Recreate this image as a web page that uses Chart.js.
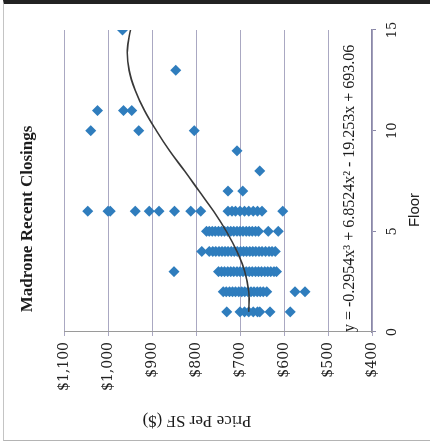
<!DOCTYPE html>
<html lang="en">
<head>
  <meta charset="UTF-8">
  <title>Madrone Recent Closings</title>
  <script src="https://cdn.jsdelivr.net/npm/chart.js"></script>
  <style>
    body { margin: 0; background: #fff; }
    #page { position: relative; width: 430px; height: 442px; overflow: hidden; background: #fff; }
    #turn { position: absolute; left: 0; top: 0; width: 442px; height: 430px;
            transform-origin: 0 0; transform: translateY(442px) rotate(-90deg); }
    #frame { position: absolute; left: 3px; top: 0; width: 427px; height: 441px; box-sizing: border-box;
             border-top: 4px solid #222; border-left: 1px solid #c4c4c4; border-bottom: 1px solid #b4b4b4; }
  </style>
</head>
<body>
  <div id="page">
    <div id="turn"><canvas id="closingsChart" width="442" height="430"></canvas></div>
    <div id="frame"></div>
  </div>

  <script>
    // price per SF ($) of each closing, grouped by floor
    const floor1 = [730, 700, 690, 680, 670, 660, 655, 632, 586];
    const floor2 = [738, 731, 724, 717, 710, 703, 696, 689, 682, 675, 668, 661, 654, 647, 639, 575, 552];
    const floor3 = [850, 749, 742, 735, 728, 721, 714, 707, 700, 693, 686, 679, 672, 665, 658, 651, 644, 637, 630, 623, 617];
    const floor4 = [787, 770, 762, 755, 748, 741, 734, 727, 720, 713, 706, 699, 692, 685, 678, 671, 664, 657, 650, 642, 634, 627, 620];
    const floor5 = [776, 770, 763, 756, 749, 742, 735, 728, 721, 714, 707, 700, 693, 686, 679, 672, 665, 658, 636, 613];
    const floor6 = [1046, 1000, 995, 938, 906, 884, 849, 812, 789, 727, 718, 710, 700, 690, 680, 670, 660, 650, 603];
    const floor7 = [727, 694];
    const floor8 = [655];
    const floor9 = [707];
    const floor10 = [1039, 930, 804];
    const floor11 = [1024, 965, 946];
    const floor13 = [846];
    const floor15 = [967];

    const floorNumbers = [1, 2, 3, 4, 5, 6, 7, 8, 9, 10, 11, 13, 15];
    const floorPrices = [floor1, floor2, floor3, floor4, floor5, floor6, floor7, floor8, floor9, floor10, floor11, floor13, floor15];

    // polynomial trendline
    const trendFloors = [1, 2, 3, 4, 5, 6, 7, 8, 9, 10, 11, 12, 13, 14, 15];
    const trendPrices = [680, 680, 689, 707, 731, 760, 793, 826, 860, 890, 917, 938, 952, 956, 949];

    const priceTicks = [400, 500, 600, 700, 800, 900, 1000, 1100];
    const floorTicks = [0, 5, 10, 15];

    const titleText = 'Madrone Recent Closings';
    const xTitle = 'Floor';
    const yTitle = 'Price Per SF ($)';
    const equation = 'y = -0.2954x\u00B3 + 6.8524x\u00B2 - 19.253x + 693.06';

    const closings = [];
    floorNumbers.forEach((f, i) => {
      floorPrices[i].forEach(p => closings.push({ x: f, y: p }));
    });
    const trend = trendFloors.map((f, i) => ({ x: f, y: trendPrices[i] }));

    // titles and the trendline equation
    const textPlugin = {
      id: 'texts',
      afterDraw(chart) {
        const c = chart.ctx;
        c.save();
        c.fillStyle = '#1c1c1c';
        c.textAlign = 'center';
        c.textBaseline = 'middle';
        c.font = 'bold 17px "Liberation Serif"';
        c.fillText(titleText, 223, 28);
        c.font = '15px "Liberation Sans"';
        c.fillText(xTitle, 232, 415);
        c.font = '16px "Liberation Serif"';
        c.textAlign = 'left';
        c.fillText(equation, 110, 350);
        c.translate(22, 197);
        c.rotate(-Math.PI / 2);
        c.textAlign = 'center';
        c.font = '17px "Liberation Serif"';
        c.fillText(yTitle, 0, 0);
        c.restore();
      }
    };

    const ctx = document.getElementById('closingsChart').getContext('2d');
    new Chart(ctx, {
      type: 'scatter',
      data: {
        datasets: [
          {
            label: 'Trend',
            data: trend,
            showLine: true,
            borderColor: '#383838',
            borderWidth: 1.6,
            pointRadius: 0,
            tension: 0.4,
            order: 0
          },
          {
            label: 'Closings',
            data: closings,
            pointStyle: 'rectRot',
            pointRadius: 5.5,
            backgroundColor: '#2f7dbd',
            borderColor: '#2f7dbd',
            borderWidth: 0,
            order: 1
          }
        ]
      },
      options: {
        responsive: false,
        animation: false,
        layout: { padding: { top: 64, right: 30, bottom: 0, left: 0 } },
        plugins: {
          legend: { display: false },
          tooltip: { enabled: false },
          title: { display: false }
        },
        scales: {
          x: {
            type: 'linear',
            min: 0,
            max: 15,
            afterBuildTicks: s => { s.ticks = floorTicks.map(v => ({ value: v })); },
            ticks: { color: '#222', padding: 9, font: { family: 'DejaVu Serif', size: 13 } },
            grid: { drawOnChartArea: false, tickLength: 4, color: '#8a88a8' },
            border: { color: '#8a88a8', width: 1.2 },
            afterFit: s => { s.height = 58; }
          },
          y: {
            min: 400,
            max: 1100,
            afterBuildTicks: s => { s.ticks = priceTicks.map(v => ({ value: v })); },
            ticks: {
              color: '#222',
              padding: 6,
              font: { family: 'DejaVu Serif', size: 14 },
              callback: v => '$' + v.toLocaleString('en-US')
            },
            grid: { color: '#aaa8c2', tickLength: 4 },
            border: { color: '#9a9a9a' },
            afterFit: s => { s.width = 110; }
          }
        }
      },
      plugins: [textPlugin]
    });
  </script>
</body>
</html>
